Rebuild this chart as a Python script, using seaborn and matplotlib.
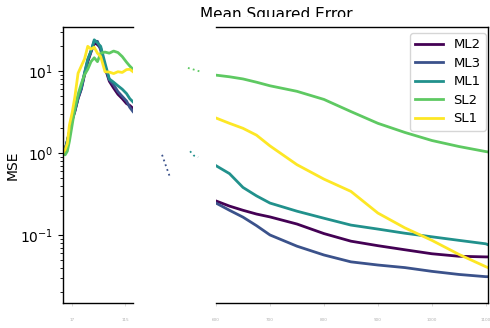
import matplotlib
matplotlib.use("Agg")
import matplotlib.pyplot as plt
import matplotlib.patches as mpatches
import seaborn as sns
import pandas as pd

models = ["ML2", "ML3", "ML1", "SL2", "SL1"]
colors = ["#440154", "#3b528b", "#21918c", "#5ec962", "#fde725"]

# ---- left segment (early training) ----
x_left = [0, 4, 8, 12, 17, 22, 28, 34, 40, 46, 52, 58, 64, 70, 78, 86, 94, 102, 110, 118, 124, 130]
left_ML2 = [1.0, 1.1, 1.4, 1.8, 2.5, 3.2, 4.6, 6.0, 9.0, 13.0, 17.0, 22.0, 21.0, 19.0, 11.0, 7.5, 6.2, 5.2, 4.6, 4.0, 3.8, 3.5]
left_ML3 = [1.0, 1.1, 1.4, 1.8, 2.6, 3.3, 4.7, 6.2, 9.3, 13.5, 17.5, 23.0, 23.0, 18.0, 11.5, 7.8, 6.8, 5.6, 4.9, 4.3, 3.6, 3.2]
left_ML1 = [1.0, 1.1, 1.4, 1.8, 2.6, 3.3, 4.8, 6.3, 9.5, 14.0, 17.5, 24.0, 22.0, 20.0, 12.5, 8.0, 7.3, 6.6, 6.0, 5.3, 4.6, 4.2]
left_SL2 = [1.0, 0.95, 1.05, 1.4, 2.2, 3.5, 5.2, 7.0, 9.0, 10.5, 13.0, 14.5, 13.0, 16.5, 17.0, 16.5, 17.5, 16.8, 15.0, 12.8, 11.5, 10.5]
left_SL1 = [1.0, 1.1, 1.3, 2.2, 3.1, 4.8, 9.4, 11.5, 14.0, 20.0, 18.5, 19.5, 16.5, 15.0, 9.8, 9.7, 9.3, 9.8, 9.6, 10.4, 10.5, 9.8]

# ---- middle segment (only fragments visible) ----
mid_SL2_x = [389, 400, 415]
mid_SL2 = [10.9, 10.4, 9.7]
mid_ML1_x = [393, 400, 408]
mid_ML1 = [1.05, 0.93, 0.89]
mid_ML3_x = [341, 348, 356]
mid_ML3 = [0.95, 0.7, 0.5]

# ---- right segment (late training) ----
x_right = [600, 625, 650, 675, 700, 750, 800, 850, 900, 950, 1000, 1050, 1100, 1104]
right_ML2 = [0.26, 0.225, 0.2, 0.18, 0.166, 0.136, 0.104, 0.084, 0.074, 0.066, 0.059, 0.055, 0.054, 0.054]
right_ML3 = [0.245, 0.2, 0.165, 0.13, 0.1, 0.073, 0.057, 0.047, 0.043, 0.04, 0.036, 0.033, 0.031, 0.031]
right_ML1 = [0.7, 0.56, 0.38, 0.3, 0.245, 0.195, 0.16, 0.132, 0.118, 0.105, 0.095, 0.086, 0.078, 0.076]
right_SL2 = [8.9, 8.5, 8.0, 7.3, 6.6, 5.65, 4.5, 3.2, 2.3, 1.78, 1.42, 1.2, 1.04, 1.03]
right_SL1 = [2.67, 2.3, 2.0, 1.65, 1.22, 0.72, 0.48, 0.34, 0.185, 0.122, 0.086, 0.058, 0.041, 0.04]

left_ticks = [17, 115]
right_ticks = [600, 700, 800, 900, 1000, 1100]


def long_df(x, series):
    rows = []
    for name, vals in series.items():
        for xi, v in zip(x, vals):
            rows.append({"step": xi, "MSE": v, "model": name})
    return pd.DataFrame(rows)


df_left = long_df(x_left, dict(zip(models, [left_ML2, left_ML3, left_ML1, left_SL2, left_SL1])))
df_right = long_df(x_right, dict(zip(models, [right_ML2, right_ML3, right_ML1, right_SL2, right_SL1])))

W, H = 490, 328
fig = plt.figure(figsize=(W / 100, H / 100), dpi=100)
fig.patch.set_facecolor("white")

ylim = (0.0148, 34.4)

ax_l = fig.add_axes([63 / W, 25 / H, 70 / W, 276 / H])
ax_m = fig.add_axes([140 / W, 25 / H, 70 / W, 276 / H])
ax_r = fig.add_axes([216 / W, 25 / H, 272 / W, 276 / H])

sns.lineplot(data=df_left, x="step", y="MSE", hue="model", hue_order=models,
             palette=colors, linewidth=2, ax=ax_l, legend=False)
sns.lineplot(data=df_right, x="step", y="MSE", hue="model", hue_order=models,
             palette=colors, linewidth=2, ax=ax_r, legend=True)

frag_style = dict(linewidth=1.3, linestyle=(0, (1, 1.8)))
sns.lineplot(x=mid_SL2_x, y=mid_SL2, color=colors[3], ax=ax_m, **frag_style)
sns.lineplot(x=mid_ML1_x, y=mid_ML1, color=colors[2], ax=ax_m, **frag_style)
sns.lineplot(x=mid_ML3_x, y=mid_ML3, color=colors[1], ax=ax_m, **frag_style)

for ax in (ax_l, ax_m, ax_r):
    ax.set_yscale("log")
    ax.set_ylim(*ylim)
    ax.set_xlabel("")
    ax.set_facecolor("none")

ax_l.set_xlim(0, 130)
ax_m.set_xlim(300, 430)
ax_r.set_xlim(600, 1104)

# left axes: left/top/bottom spines
ax_l.spines["right"].set_visible(False)
ax_l.set_ylabel("MSE", fontsize=10)
ax_l.yaxis.set_label_coords((20 - 63) / 70, 0.5)
ax_l.tick_params(axis="y", labelsize=10)
ax_l.set_xticks(left_ticks)

# middle axes: nothing
for s in ax_m.spines.values():
    s.set_visible(False)
ax_m.set_xticks([])
ax_m.set_yticks([])
ax_m.set_yticks([], minor=True)
ax_m.set_ylabel("")

# right axes: top/right/bottom spines
ax_r.spines["left"].set_visible(False)
ax_r.set_yticks([])
ax_r.set_yticks([], minor=True)
ax_r.set_ylabel("")
ax_r.set_xticks(right_ticks)

for ax in (ax_l, ax_r):
    ax.tick_params(axis="x", labelsize=3, labelcolor="#b0b0b0", length=2,
                   width=0.5, color="#cccccc", pad=9)
    for s in ax.spines.values():
        s.set_linewidth(1.0)

leg = ax_r.legend(loc="upper right", fontsize=9.5, frameon=True,
                  bbox_to_anchor=((486 - 216) / 272, 1 - 6 / 276),
                  borderaxespad=0, labelspacing=0.42, handlelength=2.1)
leg.get_frame().set_edgecolor("#cccccc")
for line in leg.get_lines():
    line.set_linewidth(2)

fig.text(276 / W, 1 - 19.5 / H, "Mean Squared Error", ha="center",
         va="baseline", fontsize=11)
# the title is clipped at its lower part in the reference
fig.patches.append(mpatches.Rectangle((185 / W, 1 - 26 / H), 190 / W, 8.6 / H,
                                      transform=fig.transFigure, facecolor="white",
                                      edgecolor="none", zorder=5))

fig.savefig("out.png", dpi=100, facecolor="white")
